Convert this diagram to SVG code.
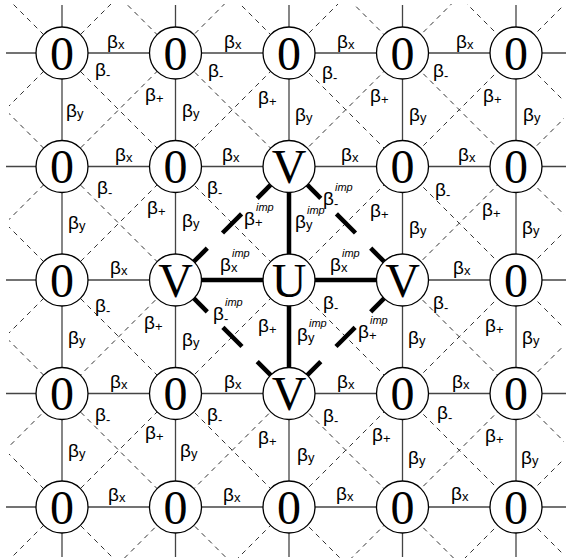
<svg xmlns="http://www.w3.org/2000/svg" width="570" height="560" viewBox="0 0 570 560">
<defs>
<clipPath id="clip"><rect x="9" y="4" width="555" height="554"/></clipPath>
<style>
.g{stroke:#444;stroke-width:1.3;fill:none}
.d{stroke:#333;stroke-width:1;stroke-dasharray:5 4.5;fill:none}
.t{stroke:#000;stroke-width:4.5;fill:none}
.n circle{fill:#fff;stroke:#000;stroke-width:1.3}
.n text{font-family:"Liberation Serif","Times New Roman",serif;font-size:48px;text-anchor:middle;fill:#000}
.l{font-family:"Liberation Sans",Arial,sans-serif;font-size:19px;fill:#000}
.s{font-size:13px}
.i{font-family:"Liberation Sans",Arial,sans-serif;font-size:11px;font-style:italic;fill:#000}
.sb{font-family:"Liberation Sans",Arial,sans-serif;font-size:13px;fill:#000}
</style>
</defs>
<rect width="570" height="560" fill="#fff"/>
<g id="connectors">
<g id="diagonals" clip-path="url(#clip)">
<line class="d" x1="-20" y1="425" x2="600" y2="1045"/>
<line class="d" x1="-20" y1="311.5" x2="600" y2="931.5"/>
<line class="d" x1="-20" y1="198" x2="600" y2="818"/>
<line class="d" x1="-20" y1="-29" x2="600" y2="591"/>
<line class="d" x1="-20" y1="-256" x2="600" y2="364"/>
<line class="d" x1="-20" y1="-369.5" x2="600" y2="250.5"/>
<line class="d" x1="-20" y1="-483" x2="600" y2="137"/>
<line class="d" x1="-20" y1="135" x2="600" y2="-485"/>
<line class="d" x1="-20" y1="248.5" x2="600" y2="-371.5"/>
<line class="d" x1="-20" y1="362" x2="600" y2="-258"/>
<line class="d" x1="-20" y1="589" x2="600" y2="-31"/>
<line class="d" x1="-20" y1="816" x2="600" y2="196"/>
<line class="d" x1="-20" y1="929.5" x2="600" y2="309.5"/>
<line class="d" x1="-20" y1="1043" x2="600" y2="423"/>
<line class="d" x1="-20" y1="-142.5" x2="289" y2="166.5"/>
<line class="d" x1="402.5" y1="280" x2="600" y2="477.5"/>
<line class="d" x1="-20" y1="84.5" x2="175.5" y2="280"/>
<line class="d" x1="289" y1="393.5" x2="600" y2="704.5"/>
<line class="d" x1="289" y1="166.5" x2="600" y2="-144.5"/>
<line class="d" x1="175.5" y1="280" x2="-20" y2="475.5"/>
<line class="d" x1="402.5" y1="280" x2="600" y2="82.5"/>
<line class="d" x1="289" y1="393.5" x2="-20" y2="702.5"/>
</g>
<g id="grid">
<line class="g" x1="6" y1="53" x2="566" y2="53"/>
<line class="g" x1="6" y1="166.5" x2="566" y2="166.5"/>
<line class="g" x1="6" y1="280" x2="566" y2="280"/>
<line class="g" x1="6" y1="393.5" x2="566" y2="393.5"/>
<line class="g" x1="6" y1="507" x2="566" y2="507"/>
<line class="g" x1="62" y1="5" x2="62" y2="557"/>
<line class="g" x1="175.5" y1="5" x2="175.5" y2="557"/>
<line class="g" x1="289" y1="5" x2="289" y2="557"/>
<line class="g" x1="402.5" y1="5" x2="402.5" y2="557"/>
<line class="g" x1="516" y1="5" x2="516" y2="557"/>
</g>
<g id="imp-edges">
<line class="t" x1="175.5" y1="280" x2="402.5" y2="280"/>
<line class="t" x1="289" y1="166.5" x2="289" y2="393.5"/>
<line class="t" x1="270.6" y1="184.9" x2="257.2" y2="198.3"/>
<line class="t" x1="241.6" y1="213.9" x2="222.5" y2="233"/>
<line class="t" x1="207.3" y1="248.2" x2="193.8" y2="261.7"/>
<line class="t" x1="307.4" y1="184.9" x2="320.8" y2="198.3"/>
<line class="t" x1="336.4" y1="213.9" x2="355.5" y2="233"/>
<line class="t" x1="370.7" y1="248.2" x2="384.2" y2="261.7"/>
<line class="t" x1="193.9" y1="298.4" x2="207.3" y2="311.8"/>
<line class="t" x1="222.9" y1="327.4" x2="242" y2="346.5"/>
<line class="t" x1="257.2" y1="361.7" x2="270.7" y2="375.2"/>
<line class="t" x1="384.1" y1="298.4" x2="370.7" y2="311.8"/>
<line class="t" x1="355.1" y1="327.4" x2="336" y2="346.5"/>
<line class="t" x1="320.8" y1="361.7" x2="307.3" y2="375.2"/>
</g>
</g>
<g id="n00" class="n"><circle cx="62" cy="53" r="26"/><text x="62" y="69.5">0</text></g>
<g id="n10" class="n"><circle cx="175.5" cy="53" r="26"/><text x="175.5" y="69.5">0</text></g>
<g id="n20" class="n"><circle cx="289" cy="53" r="26"/><text x="289" y="69.5">0</text></g>
<g id="n30" class="n"><circle cx="402.5" cy="53" r="26"/><text x="402.5" y="69.5">0</text></g>
<g id="n40" class="n"><circle cx="516" cy="53" r="26"/><text x="516" y="69.5">0</text></g>
<g id="n01" class="n"><circle cx="62" cy="166.5" r="26"/><text x="62" y="183">0</text></g>
<g id="n11" class="n"><circle cx="175.5" cy="166.5" r="26"/><text x="175.5" y="183">0</text></g>
<g id="n21" class="n"><circle cx="289" cy="166.5" r="26"/><text x="289" y="183">V</text></g>
<g id="n31" class="n"><circle cx="402.5" cy="166.5" r="26"/><text x="402.5" y="183">0</text></g>
<g id="n41" class="n"><circle cx="516" cy="166.5" r="26"/><text x="516" y="183">0</text></g>
<g id="n02" class="n"><circle cx="62" cy="280" r="26"/><text x="62" y="296.5">0</text></g>
<g id="n12" class="n"><circle cx="175.5" cy="280" r="26"/><text x="175.5" y="296.5">V</text></g>
<g id="n22" class="n"><circle cx="289" cy="280" r="26"/><text x="289" y="296.5">U</text></g>
<g id="n32" class="n"><circle cx="402.5" cy="280" r="26"/><text x="402.5" y="296.5">V</text></g>
<g id="n42" class="n"><circle cx="516" cy="280" r="26"/><text x="516" y="296.5">0</text></g>
<g id="n03" class="n"><circle cx="62" cy="393.5" r="26"/><text x="62" y="410">0</text></g>
<g id="n13" class="n"><circle cx="175.5" cy="393.5" r="26"/><text x="175.5" y="410">0</text></g>
<g id="n23" class="n"><circle cx="289" cy="393.5" r="26"/><text x="289" y="410">V</text></g>
<g id="n33" class="n"><circle cx="402.5" cy="393.5" r="26"/><text x="402.5" y="410">0</text></g>
<g id="n43" class="n"><circle cx="516" cy="393.5" r="26"/><text x="516" y="410">0</text></g>
<g id="n04" class="n"><circle cx="62" cy="507" r="26"/><text x="62" y="523.5">0</text></g>
<g id="n14" class="n"><circle cx="175.5" cy="507" r="26"/><text x="175.5" y="523.5">0</text></g>
<g id="n24" class="n"><circle cx="289" cy="507" r="26"/><text x="289" y="523.5">0</text></g>
<g id="n34" class="n"><circle cx="402.5" cy="507" r="26"/><text x="402.5" y="523.5">0</text></g>
<g id="n44" class="n"><circle cx="516" cy="507" r="26"/><text x="516" y="523.5">0</text></g>
<g id="labels-x">
<text class="l" x="107" y="48">β<tspan class="s" dy="1">x</tspan></text>
<text class="l" x="224" y="48">β<tspan class="s" dy="1">x</tspan></text>
<text class="l" x="337" y="48">β<tspan class="s" dy="1">x</tspan></text>
<text class="l" x="456" y="48">β<tspan class="s" dy="1">x</tspan></text>
<text class="l" x="115" y="161">β<tspan class="s" dy="1">x</tspan></text>
<text class="l" x="222" y="161">β<tspan class="s" dy="1">x</tspan></text>
<text class="l" x="341" y="161">β<tspan class="s" dy="1">x</tspan></text>
<text class="l" x="458" y="161">β<tspan class="s" dy="1">x</tspan></text>
<text class="l" x="110" y="274">β<tspan class="s" dy="1">x</tspan></text>
<text class="l" x="453" y="274">β<tspan class="s" dy="1">x</tspan></text>
<text class="l" x="110" y="388">β<tspan class="s" dy="1">x</tspan></text>
<text class="l" x="224" y="388">β<tspan class="s" dy="1">x</tspan></text>
<text class="l" x="337" y="388">β<tspan class="s" dy="1">x</tspan></text>
<text class="l" x="452" y="388">β<tspan class="s" dy="1">x</tspan></text>
<text class="l" x="108" y="501">β<tspan class="s" dy="1">x</tspan></text>
<text class="l" x="223" y="501">β<tspan class="s" dy="1">x</tspan></text>
<text class="l" x="336" y="500">β<tspan class="s" dy="1">x</tspan></text>
<text class="l" x="451" y="500">β<tspan class="s" dy="1">x</tspan></text>
</g>
<g id="labels-y">
<text class="l" x="66" y="117">β<tspan class="s" dy="1">y</tspan></text>
<text class="l" x="182" y="117">β<tspan class="s" dy="1">y</tspan></text>
<text class="l" x="295" y="121">β<tspan class="s" dy="1">y</tspan></text>
<text class="l" x="409" y="121">β<tspan class="s" dy="1">y</tspan></text>
<text class="l" x="523" y="121">β<tspan class="s" dy="1">y</tspan></text>
<text class="l" x="68" y="229">β<tspan class="s" dy="1">y</tspan></text>
<text class="l" x="182" y="227">β<tspan class="s" dy="1">y</tspan></text>
<text class="l" x="409" y="234">β<tspan class="s" dy="1">y</tspan></text>
<text class="l" x="522" y="234">β<tspan class="s" dy="1">y</tspan></text>
<text class="l" x="68" y="344">β<tspan class="s" dy="1">y</tspan></text>
<text class="l" x="182" y="346">β<tspan class="s" dy="1">y</tspan></text>
<text class="l" x="408" y="344">β<tspan class="s" dy="1">y</tspan></text>
<text class="l" x="522" y="344">β<tspan class="s" dy="1">y</tspan></text>
<text class="l" x="68" y="457">β<tspan class="s" dy="1">y</tspan></text>
<text class="l" x="180" y="457">β<tspan class="s" dy="1">y</tspan></text>
<text class="l" x="297" y="461">β<tspan class="s" dy="1">y</tspan></text>
<text class="l" x="408" y="464">β<tspan class="s" dy="1">y</tspan></text>
<text class="l" x="521" y="464">β<tspan class="s" dy="1">y</tspan></text>
</g>
<g id="labels-minus">
<text class="l" x="95" y="76">β<tspan class="s" dy="3">-</tspan></text>
<text class="l" x="208" y="77">β<tspan class="s" dy="3">-</tspan></text>
<text class="l" x="322" y="79">β<tspan class="s" dy="3">-</tspan></text>
<text class="l" x="433" y="77">β<tspan class="s" dy="3">-</tspan></text>
<text class="l" x="97" y="194">β<tspan class="s" dy="3">-</tspan></text>
<text class="l" x="207" y="194">β<tspan class="s" dy="3">-</tspan></text>
<text class="l" x="435" y="196">β<tspan class="s" dy="3">-</tspan></text>
<text class="l" x="95" y="312">β<tspan class="s" dy="3">-</tspan></text>
<text class="l" x="323" y="309">β<tspan class="s" dy="3">-</tspan></text>
<text class="l" x="433" y="309">β<tspan class="s" dy="3">-</tspan></text>
<text class="l" x="95" y="421">β<tspan class="s" dy="3">-</tspan></text>
<text class="l" x="207" y="421">β<tspan class="s" dy="3">-</tspan></text>
<text class="l" x="323" y="422">β<tspan class="s" dy="3">-</tspan></text>
<text class="l" x="437" y="419">β<tspan class="s" dy="3">-</tspan></text>
</g>
<g id="labels-plus">
<text class="l" x="145" y="101">β<tspan class="s" dy="2">+</tspan></text>
<text class="l" x="258" y="104">β<tspan class="s" dy="2">+</tspan></text>
<text class="l" x="370" y="102">β<tspan class="s" dy="2">+</tspan></text>
<text class="l" x="483" y="102">β<tspan class="s" dy="2">+</tspan></text>
<text class="l" x="147" y="214">β<tspan class="s" dy="2">+</tspan></text>
<text class="l" x="370" y="217">β<tspan class="s" dy="2">+</tspan></text>
<text class="l" x="482" y="216">β<tspan class="s" dy="2">+</tspan></text>
<text class="l" x="144" y="329">β<tspan class="s" dy="2">+</tspan></text>
<text class="l" x="258" y="332">β<tspan class="s" dy="2">+</tspan></text>
<text class="l" x="485" y="332">β<tspan class="s" dy="2">+</tspan></text>
<text class="l" x="145" y="439">β<tspan class="s" dy="2">+</tspan></text>
<text class="l" x="258" y="444">β<tspan class="s" dy="2">+</tspan></text>
<text class="l" x="372" y="441">β<tspan class="s" dy="2">+</tspan></text>
<text class="l" x="485" y="442">β<tspan class="s" dy="2">+</tspan></text>
</g>
<g id="labels-imp">
<text class="l" x="244" y="225">β</text><text class="i" x="256" y="211">imp</text><text class="sb" x="255" y="227">+</text>
<text class="l" x="295" y="228">β</text><text class="i" x="307" y="214">imp</text><text class="sb" x="306" y="229">y</text>
<text class="l" x="323" y="205">β</text><text class="i" x="335" y="191">imp</text><text class="sb" x="334" y="208">-</text>
<text class="l" x="220" y="271">β</text><text class="i" x="232" y="257">imp</text><text class="sb" x="231" y="272">x</text>
<text class="l" x="330" y="271">β</text><text class="i" x="342" y="257">imp</text><text class="sb" x="341" y="272">x</text>
<text class="l" x="213" y="320">β</text><text class="i" x="225" y="306">imp</text><text class="sb" x="224" y="323">-</text>
<text class="l" x="297" y="341">β</text><text class="i" x="309" y="327">imp</text><text class="sb" x="308" y="342">y</text>
<text class="l" x="358" y="338">β</text><text class="i" x="370" y="324">imp</text><text class="sb" x="369" y="340">+</text>
</g>
</svg>
